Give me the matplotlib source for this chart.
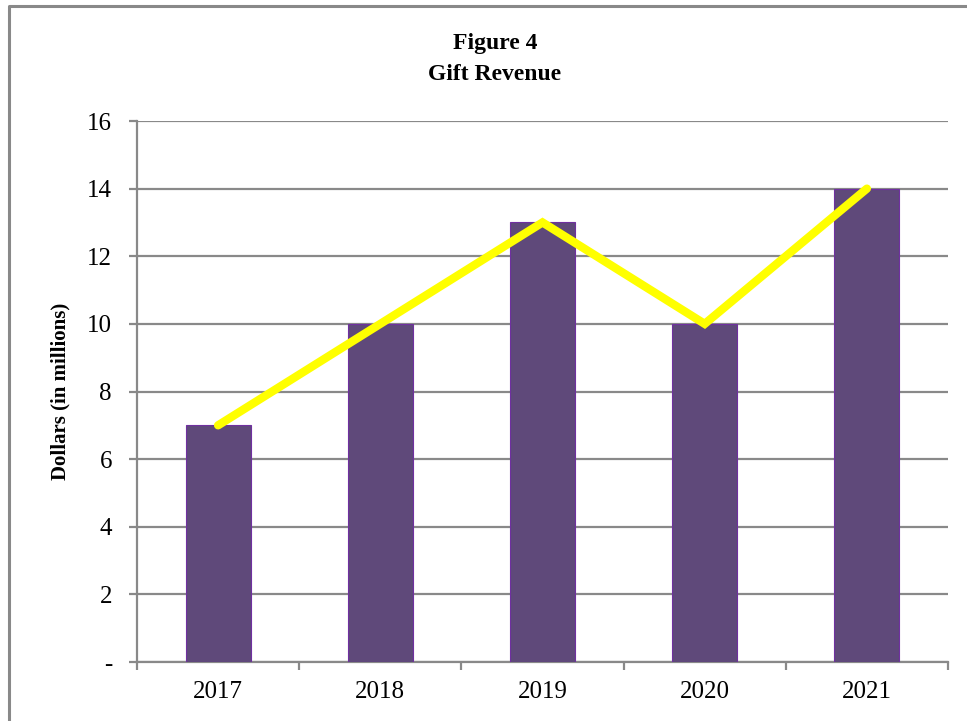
import matplotlib.pyplot as plt
from matplotlib.lines import Line2D

years = ["2017", "2018", "2019", "2020", "2021"]
revenue = [7, 10, 13, 10, 14]
y_ticks = [0, 2, 4, 6, 8, 10, 12, 14, 16]
y_tick_labels = ["-", "2", "4", "6", "8", "10", "12", "14", "16"]

plt.rcParams["font.family"] = ["Liberation Serif", "DejaVu Serif"]

W, H = 967, 721
fig = plt.figure(figsize=(W / 100, H / 100), dpi=100)
ax = fig.add_axes([137 / W, 1 - 662 / H, (948 - 137) / W, (662 - 121) / H])

grey = "#898989"
x = list(range(len(years)))

ax.bar(x, revenue, width=0.4, color="#5F497A", edgecolor="#7030A0",
       linewidth=0.8, zorder=3)
ax.plot(x, revenue, color="#FFFF00", linewidth=6, solid_capstyle="round",
        solid_joinstyle="miter", zorder=4)

ax.set_xlim(-0.5, len(years) - 0.5)
ax.set_ylim(0, 16)
ax.set_yticks(y_ticks)
ax.set_yticklabels(y_tick_labels)
ax.set_xticks(x)
ax.set_xticklabels(years)
ax.set_xticks([i - 0.5 for i in range(len(years) + 1)], minor=True)

ax.yaxis.grid(True, color=grey, linewidth=1.6, zorder=0)
ax.set_axisbelow(True)

for side in ["top", "right"]:
    ax.spines[side].set_visible(False)
for side in ["left", "bottom"]:
    ax.spines[side].set_color(grey)
    ax.spines[side].set_linewidth(1.6)

ax.tick_params(axis="y", direction="out", length=6, width=1.6, color=grey,
               labelsize=18, pad=12)
ax.tick_params(axis="x", which="major", length=0, labelsize=18, pad=14)
ax.tick_params(axis="x", which="minor", direction="out", length=6,
               width=1.6, color=grey)

ax.set_ylabel("Dollars (in millions)", fontsize=15, fontweight="bold",
              labelpad=12)

fig.text(495 / W, 1 - 43 / H, "Figure 4", ha="center", va="center",
         fontsize=17, fontweight="bold")
fig.text(495 / W, 1 - 74 / H, "Gift Revenue", ha="center", va="center",
         fontsize=17, fontweight="bold")

# outer frame (only top and left edges are visible in the reference)
fig.add_artist(Line2D([9 / W, 9 / W, 1.0], [0.0, 1 - 6 / H, 1 - 6 / H],
                      transform=fig.transFigure, color=grey, linewidth=2.2))

fig.savefig("out.png", dpi=100)
